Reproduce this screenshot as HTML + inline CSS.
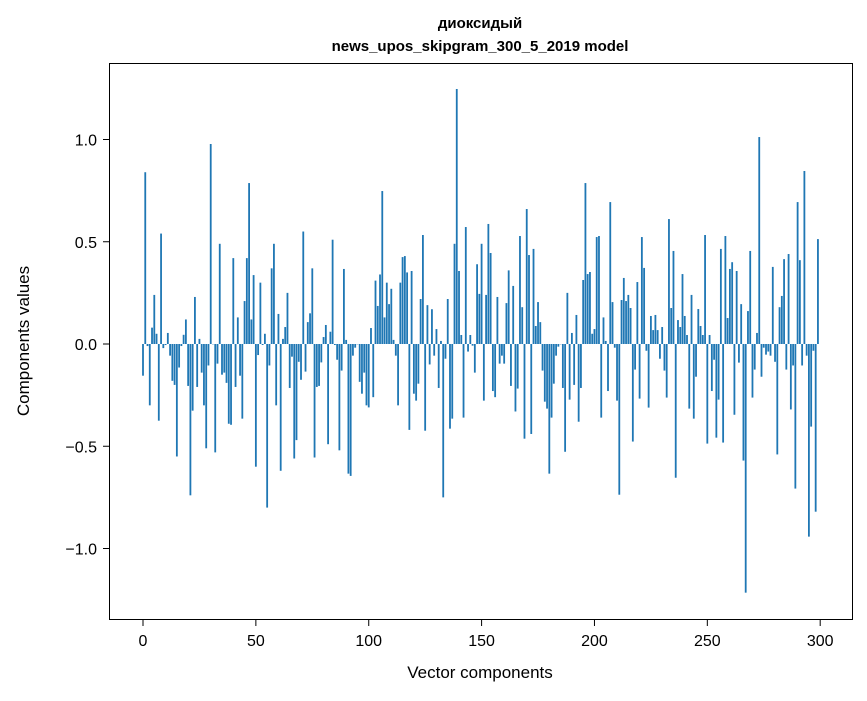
<!DOCTYPE html>
<html><head><meta charset="utf-8"><style>
html,body{margin:0;padding:0;background:#fff}
svg text{font-family:"Liberation Sans","DejaVu Sans",sans-serif;fill:#000}
</style></head><body>
<svg id="chart" width="867" height="696" viewBox="0 0 867 696">
<text x="480" y="28" text-anchor="middle" font-size="15" font-weight="bold">диоксидый</text>
<text x="480" y="51" text-anchor="middle" font-size="15" font-weight="bold">news_upos_skipgram_300_5_2019 model</text>
<g id="bars"></g>
<rect x="109.5" y="63.5" width="743" height="556" fill="none" stroke="#000" stroke-width="1"/>
<g id="xticks"></g>
<g id="yticks"></g>
<text x="480" y="678" text-anchor="middle" font-size="17">Vector components</text>
<text transform="translate(29,341) rotate(-90)" text-anchor="middle" font-size="17">Components values</text>
</svg>
<script>
const values = [
-0.155,0.84,-0.01,-0.30,0.08,0.24,0.05,-0.375,0.54,-0.02,
-0.005,0.054,-0.057,-0.18,-0.2,-0.55,-0.115,-0.01,0.045,0.12,
-0.205,-0.74,-0.326,0.23,-0.21,0.025,-0.14,-0.3,-0.51,-0.105,
0.978,0.0,-0.53,-0.096,0.49,-0.15,-0.14,-0.19,-0.39,-0.395,
0.42,-0.21,0.13,-0.155,-0.365,0.21,0.42,0.787,0.12,0.337,
-0.6,-0.054,0.30,-0.005,0.05,-0.8,-0.105,0.37,0.49,-0.3,
0.147,-0.62,0.025,0.083,0.25,-0.215,-0.062,-0.56,-0.47,-0.087,
-0.175,0.55,-0.135,0.107,0.15,0.37,-0.555,-0.21,-0.205,-0.09,
0.034,0.093,-0.49,0.06,0.51,-0.005,-0.077,-0.52,-0.13,0.367,
0.02,-0.634,-0.645,-0.057,-0.018,0.0,-0.185,-0.243,-0.14,-0.3,
-0.31,0.078,-0.26,0.31,0.186,0.34,0.748,0.13,0.30,0.195,
0.27,0.02,-0.057,-0.3,0.3,0.425,0.43,0.35,-0.42,0.357,
-0.243,-0.277,-0.194,0.22,0.533,-0.424,0.19,-0.1,0.17,-0.057,
0.073,-0.215,0.015,-0.75,-0.072,0.22,-0.414,-0.365,0.49,1.247,
0.357,0.044,-0.36,0.572,-0.037,0.044,-0.008,-0.14,0.39,0.245,
0.49,-0.277,0.24,0.587,0.445,-0.23,-0.26,0.23,-0.096,-0.057,
-0.096,0.2,0.36,-0.205,0.284,-0.33,-0.218,0.528,0.18,-0.463,
0.66,0.435,-0.44,0.465,0.088,0.205,0.107,-0.13,-0.282,-0.316,
-0.634,-0.36,-0.194,-0.057,-0.013,0.0,-0.215,-0.527,0.25,-0.272,
0.054,-0.2,0.142,-0.38,-0.215,0.313,0.787,0.342,0.352,0.05,
0.073,0.523,0.528,-0.36,0.13,0.015,-0.23,0.694,0.205,-0.018,
-0.277,-0.737,0.215,0.323,0.21,0.24,0.176,-0.477,-0.125,0.303,
-0.267,0.523,0.372,-0.033,-0.311,0.137,0.068,0.142,0.068,-0.072,
0.083,-0.13,-0.262,0.611,0.176,0.455,-0.654,0.117,0.083,0.342,
0.137,0.044,-0.316,0.24,-0.365,-0.16,0.171,0.088,0.044,0.533,
-0.487,0.044,-0.23,-0.077,-0.458,-0.272,0.465,-0.482,0.528,0.127,
0.367,0.4,-0.346,0.357,-0.091,0.195,-0.57,-1.216,0.161,0.455,
-0.262,-0.125,0.054,1.012,-0.16,-0.018,-0.052,-0.037,-0.057,0.377,
-0.087,-0.54,0.18,0.235,0.415,-0.125,0.44,-0.32,-0.105,-0.707,
0.694,0.41,-0.105,0.846,-0.057,-0.942,-0.404,-0.033,-0.82,0.513
];
const xTicks = [0,50,100,150,200,250,300];
const yTicks = [-1.0,-0.5,0.0,0.5,1.0];
const yTickLabels = ["\u22121.0","\u22120.5","0.0","0.5","1.0"];

const NS = "http://www.w3.org/2000/svg";
function xScale(v){ return 143 + 2.2573 * v; }
function yScale(v){ return 344 - 204.5 * v; }

const gb = document.getElementById('bars');
values.forEach((v,i)=>{
  const r = document.createElementNS(NS,'rect');
  const x0 = xScale(i-0.4), x1 = xScale(i+0.4);
  const y0 = yScale(Math.max(v,0)), y1 = yScale(Math.min(v,0));
  r.setAttribute('x', x0);
  r.setAttribute('width', x1-x0);
  r.setAttribute('y', y0);
  r.setAttribute('height', Math.max(y1-y0,0.3));
  r.setAttribute('fill','#1f77b4');
  
  
  gb.appendChild(r);
});

const gx = document.getElementById('xticks');
xTicks.forEach(t=>{
  const x = xScale(t);
  const l = document.createElementNS(NS,'line');
  l.setAttribute('x1',x);l.setAttribute('x2',x);l.setAttribute('y1',619.5);l.setAttribute('y2',626);
  l.setAttribute('stroke','#000');
  
  
  gx.appendChild(l);
  const tx = document.createElementNS(NS,'text');
  tx.setAttribute('x',x);tx.setAttribute('y',646);tx.setAttribute('text-anchor','middle');tx.setAttribute('font-size','16');
  tx.textContent = t;
  
  
  gx.appendChild(tx);
});
const gy = document.getElementById('yticks');
yTicks.forEach((t,i)=>{
  const y = yScale(t);
  const l = document.createElementNS(NS,'line');
  l.setAttribute('x1',103);l.setAttribute('x2',109.5);l.setAttribute('y1',y);l.setAttribute('y2',y);
  l.setAttribute('stroke','#000');
  
  
  gy.appendChild(l);
  const tx = document.createElementNS(NS,'text');
  tx.setAttribute('x',97);tx.setAttribute('y',y+6);tx.setAttribute('text-anchor','end');tx.setAttribute('font-size','16');
  tx.textContent = yTickLabels[i];
  
  
  gy.appendChild(tx);
});
</script>
</body></html>
